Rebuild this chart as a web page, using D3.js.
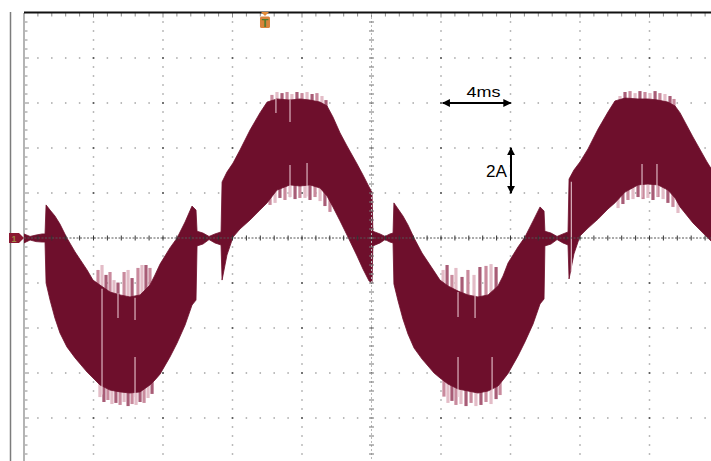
<!DOCTYPE html>
<html>
<head>
<meta charset="utf-8">
<script src="https://cdn.jsdelivr.net/npm/d3@7/dist/d3.min.js"></script>
<style>
  html, body { margin: 0; padding: 0; background: #fff; }
  svg { display: block; }
</style>
</head>
<body>
<div id="chart"></div>
<script>
// scope capture, CH1 current: 4 ms/div, 2 A/div

const majorMs = [0, 4, 8, 12, 16, 20, 24, 28, 32, 36, 40];
const majorA = [-10, -8, -6, -4, -2, 0, 2, 4, 6, 8, 10];

// envelope of the switching ripple band (time in ms, current in A)
const timeMs = [0.00, 0.35, 0.69, 1.04, 1.21, 1.27, 1.50, 1.78, 2.07, 2.47,
  2.94, 3.63, 3.97, 4.37, 4.95, 5.53, 6.10, 6.68, 7.25, 7.54,
  7.83, 8.40, 8.81, 9.27, 9.67, 9.90, 9.96, 10.30, 10.65, 10.99,
  11.34, 11.40, 11.68, 12.03, 12.43, 13.01, 13.58, 13.99, 14.56, 15.31,
  15.88, 16.46, 17.04, 17.44, 17.78, 18.19, 18.59, 19.17, 19.51, 19.86,
  20.03, 20.08, 20.49, 20.78, 21.06, 21.24, 21.29, 21.53, 21.81, 22.10,
  22.45, 22.91, 23.60, 23.94, 24.40, 24.98, 25.55, 26.13, 26.71, 27.28,
  27.57, 27.86, 28.43, 28.83, 29.30, 29.70, 29.93, 29.98, 30.33, 30.68,
  31.02, 31.31, 31.37, 31.65, 32.00, 32.46, 33.04, 33.61, 34.01, 34.59,
  35.34, 35.91, 36.49, 37.06, 37.47, 37.76, 38.50, 39.31, 39.60];
const upperA = [0.18, 0.07, 0.13, 0.18, 0.18, 1.47, 1.24, 0.98, 0.62, 0.00,
  -0.62, -1.42, -1.87, -2.09, -2.40, -2.53, -2.62, -2.53, -2.09, -1.64,
  -1.16, -0.44, 0.00, 0.71, 1.42, 1.24, 0.30, 0.22, 0.07, 0.18,
  0.27, 2.49, 2.93, 3.33, 3.91, 4.80, 5.56, 6.04, 6.18, 6.13,
  6.18, 6.13, 6.04, 5.87, 5.38, 4.67, 4.09, 3.29, 2.80, 2.27,
  2.04, 0.30, 0.18, 0.07, 0.18, 0.22, 1.56, 1.29, 0.98, 0.58,
  0.00, -0.67, -1.47, -1.87, -2.13, -2.36, -2.53, -2.62, -2.53, -2.13,
  -1.69, -1.11, -0.40, 0.04, 0.76, 1.38, 1.20, 0.30, 0.22, 0.07,
  0.18, 0.27, 2.62, 3.02, 3.38, 3.96, 4.84, 5.60, 6.09, 6.22,
  6.18, 6.18, 6.13, 6.04, 5.87, 5.56, 4.49, 3.38, 3.02];
const lowerA = [-0.22, -0.09, -0.16, -0.18, -0.18, -2.00, -2.76, -3.56, -4.22, -4.84,
  -5.33, -5.96, -6.22, -6.53, -6.76, -6.84, -6.89, -6.84, -6.53, -6.31,
  -6.05, -5.29, -4.67, -3.87, -2.98, -2.76, -0.35, -0.27, -0.07, -0.22,
  -0.31, -1.87, -0.76, 0.04, 0.40, 0.80, 1.24, 1.56, 2.13, 2.36,
  2.31, 2.36, 2.22, 1.87, 1.38, 0.76, 0.13, -0.80, -1.38, -1.91,
  -2.00, -0.35, -0.22, -0.07, -0.18, -0.22, -2.04, -2.80, -3.60, -4.27,
  -4.89, -5.38, -6.00, -6.22, -6.49, -6.71, -6.80, -6.89, -6.80, -6.58,
  -6.31, -6.02, -5.24, -4.62, -3.82, -2.93, -2.71, -0.35, -0.27, -0.07,
  -0.22, -0.31, -1.82, -0.71, 0.09, 0.44, 0.84, 1.29, 1.56, 2.04,
  2.36, 2.40, 2.36, 2.13, 1.78, 1.38, 0.67, 0.04, -0.18];

// sparse ripple spikes reaching past the solid band: [ms, fromA, toA]
const rippleNeg1 = [
  [4.26, -3.0, -1.42], [4.49, -3.0, -1.20], [4.72, -3.0, -1.64], [4.95, -3.0, -1.51],
  [5.18, -3.0, -1.87], [5.41, -3.0, -1.98], [5.76, -3.0, -1.51], [5.99, -3.0, -1.42],
  [6.22, -3.0, -1.78], [6.56, -3.0, -1.33], [6.79, -3.0, -1.20], [7.02, -3.0, -1.20],
  [7.25, -3.0, -1.33],
  [4.37, -6.0, -7.07], [4.60, -6.0, -7.29], [4.83, -6.0, -7.20], [5.06, -6.0, -7.38],
  [5.29, -6.0, -7.33], [5.53, -6.0, -7.42], [5.76, -6.0, -7.29], [5.99, -6.0, -7.47],
  [6.22, -6.0, -7.38], [6.45, -6.0, -7.42], [6.68, -6.0, -7.29], [6.91, -6.0, -7.33],
  [7.14, -6.0, -7.11], [7.37, -6.0, -6.93]
];
const ripplePos1 = [
  [14.27, 5.5, 6.36], [14.56, 5.5, 6.49], [14.85, 5.5, 6.44], [15.14, 5.5, 6.49],
  [15.42, 5.5, 6.40], [15.71, 5.5, 6.49], [16.00, 5.5, 6.44], [16.29, 5.5, 6.49],
  [16.58, 5.5, 6.40], [16.86, 5.5, 6.44], [17.15, 5.5, 6.31], [17.38, 5.5, 6.13],
  [14.16, 3.0, 1.47], [14.45, 3.0, 1.56], [14.73, 3.0, 1.78], [15.02, 3.0, 1.69],
  [15.31, 3.0, 1.82], [15.60, 3.0, 1.73], [15.88, 3.0, 1.78], [16.17, 3.0, 1.78],
  [16.46, 3.0, 1.69], [16.75, 3.0, 1.82], [17.04, 3.0, 1.64], [17.32, 3.0, 1.42],
  [17.61, 3.0, 1.16]
];
const rippleNeg2 = [
  [24.12, -3.0, -1.42], [24.35, -3.0, -1.20], [24.63, -3.0, -1.64], [24.86, -3.0, -1.33],
  [25.21, -3.0, -1.73], [25.55, -3.0, -1.42], [25.90, -3.0, -1.64], [26.24, -3.0, -1.29],
  [26.59, -3.0, -1.24], [26.88, -3.0, -1.16], [27.17, -3.0, -1.29],
  [24.17, -6.0, -7.05], [24.40, -6.0, -7.33], [24.63, -6.0, -7.24], [24.86, -6.0, -7.42],
  [25.15, -6.0, -7.38], [25.44, -6.0, -7.47], [25.73, -6.0, -7.33], [26.01, -6.0, -7.47],
  [26.30, -6.0, -7.42], [26.59, -6.0, -7.29], [26.88, -6.0, -7.38], [27.17, -6.0, -7.16],
  [27.40, -6.0, -6.98]
];
const ripplePos2 = [
  [34.30, 5.5, 6.31], [34.59, 5.5, 6.49], [34.88, 5.5, 6.53], [35.17, 5.5, 6.44],
  [35.45, 5.5, 6.53], [35.74, 5.5, 6.49], [36.03, 5.5, 6.44], [36.32, 5.5, 6.53],
  [36.60, 5.5, 6.44], [36.89, 5.5, 6.40], [37.18, 5.5, 6.31], [37.41, 5.5, 6.18],
  [34.19, 3.0, 1.33], [34.47, 3.0, 1.51], [34.76, 3.0, 1.69], [35.05, 3.0, 1.73],
  [35.34, 3.0, 1.82], [35.63, 3.0, 1.73], [35.91, 3.0, 1.78], [36.20, 3.0, 1.69],
  [36.49, 3.0, 1.82], [36.78, 3.0, 1.73], [37.06, 3.0, 1.56], [37.35, 3.0, 1.38],
  [37.64, 3.0, 1.11]
];
// thin light streaks visible inside the band
const gapLines = [
  [4.49, -2.25, -6.95], [5.41, -2.45, -3.56], [6.39, -2.65, -3.64], [6.39, -5.29, -7.07],
  [14.50, 6.18, 5.56], [15.31, 6.13, 5.16], [15.31, 3.24, 1.80], [16.29, 3.33, 1.85],
  [24.98, -2.40, -3.51], [25.96, -2.55, -3.56], [24.98, -5.29, -7.07], [26.94, -5.29, -6.76],
  [31.50, 2.50, -1.50], [35.57, 3.29, 1.80], [36.43, 3.29, 1.85]
];

const triggerMs = 13.87;

const W = 711, H = 461;
const traceColor = "#6e0f2c";

const x = d3.scaleLinear().domain([0, 40]).range([24, 719]);
const y = d3.scaleLinear().domain([-10, 10]).range([463, 13]);

const minorMs = d3.range(0, 40.001, 0.8);
const minorA = d3.range(-10, 10.001, 0.4);
const isMajor = v => Math.abs(Math.round(v * 10) % 20) === 0;

const svg = d3.select("#chart").append("svg")
    .attr("width", W)
    .attr("height", H)
    .attr("font-family", "'Liberation Sans', Arial, sans-serif");

svg.append("rect").attr("width", W).attr("height", H).attr("fill", "#fff");

svg.append("defs").append("clipPath").attr("id", "screen")
  .append("rect")
    .attr("x", x(0)).attr("y", y(10))
    .attr("width", W - x(0)).attr("height", H - y(10));

// outer bezel line
svg.append("line")
    .attr("x1", 10.5).attr("x2", 10.5)
    .attr("y1", 12).attr("y2", H)
    .attr("stroke", "#7c7c7c").attr("stroke-width", 1.5);

// dotted graticule
var grid = svg.append("g").attr("clip-path", "url(#screen)");

majorMs.filter(v => v > 0 && v < 40 && v !== 20).forEach(function(v) {
  grid.selectAll(null)
    .data(minorA.filter(a => a < 10))
    .enter().append("rect")
      .attr("x", x(v) - 0.75)
      .attr("y", d => y(d) - 0.75)
      .attr("width", 1.5).attr("height", 1.5)
      .attr("fill", d => isMajor(d) ? "#555" : "#a4a4a4");
});
majorA.filter(v => v > -10 && v < 10 && v !== 0).forEach(function(v) {
  grid.selectAll(null)
    .data(minorMs.filter(t => t > 0))
    .enter().append("rect")
      .attr("x", d => x(d) - 0.75)
      .attr("y", y(v) - 0.75)
      .attr("width", 1.5).attr("height", 1.5)
      .attr("fill", d => isMajor(d / 2) ? "#555" : "#a4a4a4");
});

// left edge of the screen with its ticks
svg.append("line")
    .attr("x1", x(0)).attr("x2", x(0))
    .attr("y1", y(10)).attr("y2", H)
    .attr("stroke", "#b4b4b4").attr("stroke-width", 2);
svg.append("g").selectAll("line")
  .data(minorA.filter(a => a < 10))
  .enter().append("line")
    .attr("x1", x(0) + 1).attr("x2", d => x(0) + (isMajor(d) ? 5 : 3.5))
    .attr("y1", d => y(d)).attr("y2", d => y(d))
    .attr("stroke", "#8a8a8a").attr("stroke-width", 1);

// top edge
svg.append("g").selectAll("line")
  .data(minorMs.filter(t => t > 0))
  .enter().append("line")
    .attr("x1", d => x(d)).attr("x2", d => x(d))
    .attr("y1", y(10)).attr("y2", d => y(10) + (isMajor(d / 2) ? 4.5 : 3.5))
    .attr("stroke", "#8a8a8a").attr("stroke-width", 1);

// waveform
var plot = svg.append("g").attr("clip-path", "url(#screen)");

const ripple = [].concat(rippleNeg1, ripplePos1, rippleNeg2, ripplePos2);
const rippleColors = ["#c98a9d", "#e3bcc7", "#a85c76"];

plot.append("g").selectAll("line")
  .data(ripple)
  .enter().append("line")
    .attr("x1", d => x(d[0])).attr("x2", d => x(d[0]))
    .attr("y1", d => y(d[1])).attr("y2", d => y(d[2]))
    .attr("stroke", (d, i) => rippleColors[i % 3])
    .attr("stroke-width", 3.2);

const trace = timeMs.map((t, i) => ({t: t, hi: upperA[i], lo: lowerA[i]}));

const band = d3.area()
    .x(d => x(d.t))
    .y0(d => y(d.lo))
    .y1(d => y(d.hi));

plot.append("path")
    .datum(trace)
    .attr("d", band)
    .attr("fill", traceColor)
    .attr("stroke", traceColor)
    .attr("stroke-width", 0.8);

plot.append("g").selectAll("line")
  .data(gapLines)
  .enter().append("line")
    .attr("x1", d => x(d[0])).attr("x2", d => x(d[0]))
    .attr("y1", d => y(d[1])).attr("y2", d => y(d[2]))
    .attr("stroke", "#e6c3cd")
    .attr("stroke-width", 1.1);

// centre axes on top of the trace
var axes = svg.append("g").attr("clip-path", "url(#screen)");
axes.append("line")
    .attr("x1", x(0)).attr("x2", W)
    .attr("y1", y(0)).attr("y2", y(0))
    .attr("stroke", "#555").attr("stroke-width", 1)
    .attr("stroke-dasharray", "2,1.5");
axes.selectAll(".tx")
  .data(minorMs.filter(t => t > 0))
  .enter().append("line")
    .attr("class", "tx")
    .attr("x1", d => x(d)).attr("x2", d => x(d))
    .attr("y1", y(0) - 2.5).attr("y2", y(0) + 2.5)
    .attr("stroke", "#333").attr("stroke-width", 1);

axes.append("line")
    .attr("x1", x(20)).attr("x2", x(20))
    .attr("y1", y(10)).attr("y2", H)
    .attr("stroke", "#b8b8b8").attr("stroke-width", 1)
    .attr("stroke-dasharray", "2,2");
axes.selectAll(".ty")
  .data(minorA.filter(a => a < 10))
  .enter().append("line")
    .attr("class", "ty")
    .attr("x1", x(20) - 2.5).attr("x2", x(20) + 2.5)
    .attr("y1", d => y(d)).attr("y2", d => y(d))
    .attr("stroke", "#777").attr("stroke-width", 1);

// top frame line
svg.append("line")
    .attr("x1", x(0)).attr("x2", W)
    .attr("y1", y(10) - 0.5).attr("y2", y(10) - 0.5)
    .attr("stroke", "#111").attr("stroke-width", 2);

// trigger position marker
const tx = x(triggerMs);
svg.append("path")
    .attr("d", `M${tx - 4},${y(10) - 1}L${tx + 4},${y(10) - 1}L${tx},${y(10) + 3}Z`)
    .attr("fill", "#e38a35");
svg.append("rect")
    .attr("x", tx - 5).attr("y", y(10) + 3.5)
    .attr("width", 10).attr("height", 11.5)
    .attr("rx", 1.5)
    .attr("fill", "#d9833c");
svg.append("text")
    .attr("x", tx).attr("y", y(10) + 13.5)
    .attr("text-anchor", "middle")
    .attr("font-size", 11).attr("font-weight", "bold")
    .attr("fill", "#4d7c2b")
    .text("T");

// channel 1 ground marker
const gy = y(0);
svg.append("path")
    .attr("d", `M9,${gy - 5}L19,${gy - 5}L24,${gy}L19,${gy + 5}L9,${gy + 5}Z`)
    .attr("fill", "#8b1832");
svg.append("text")
    .attr("x", 14).attr("y", gy + 3.5)
    .attr("text-anchor", "middle")
    .attr("font-size", 9).attr("font-weight", "bold")
    .attr("fill", "#a08745")
    .text("1");

// scale annotations
var ann = svg.append("g");
ann.append("defs").append("marker")
    .attr("id", "head")
    .attr("viewBox", "0 0 10 10")
    .attr("refX", 9).attr("refY", 5)
    .attr("markerWidth", 4).attr("markerHeight", 4)
    .attr("orient", "auto-start-reverse")
  .append("path")
    .attr("d", "M0,0L10,5L0,10Z")
    .attr("fill", "#000");

ann.append("line")
    .attr("x1", x(24.1)).attr("x2", x(28.0))
    .attr("y1", y(6)).attr("y2", y(6))
    .attr("stroke", "#000").attr("stroke-width", 2)
    .attr("marker-start", "url(#head)").attr("marker-end", "url(#head)");
ann.append("text")
    .attr("x", x(26.1) + 6).attr("y", y(6) - 6)
    .attr("text-anchor", "middle")
    .attr("font-size", 15)
    .attr("textLength", 34).attr("lengthAdjust", "spacingAndGlyphs")
    .text("4ms");

ann.append("line")
    .attr("x1", x(28.03)).attr("x2", x(28.03))
    .attr("y1", y(4)).attr("y2", y(2))
    .attr("stroke", "#000").attr("stroke-width", 2)
    .attr("marker-start", "url(#head)").attr("marker-end", "url(#head)");
ann.append("text")
    .attr("x", x(28.03) - 4).attr("y", y(3) + 6)
    .attr("text-anchor", "end")
    .attr("font-size", 16)
    .attr("textLength", 21).attr("lengthAdjust", "spacingAndGlyphs")
    .text("2A");
</script>
</body>
</html>
